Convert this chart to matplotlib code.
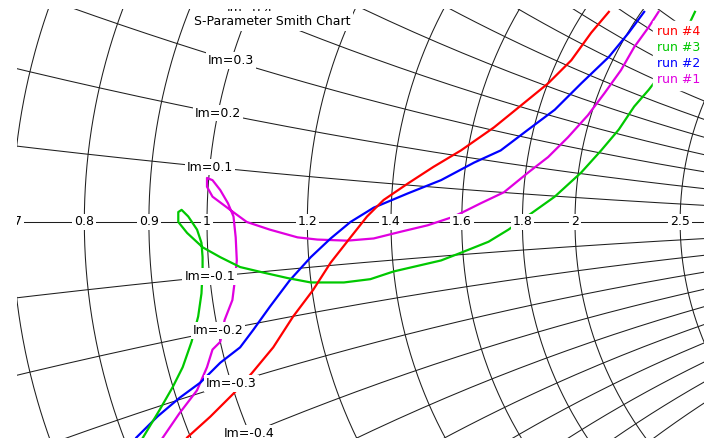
import numpy as np
import matplotlib.pyplot as plt

run1_re = [-0.040, -0.025, -0.009, 0.000, 0.005, 0.012, 0.016, 0.023, 0.025, 0.027,
           0.026, 0.024, 0.019, 0.012, 0.005, 0.000, 0.000, 0.005, 0.021, 0.036,
           0.057, 0.082, 0.100, 0.127, 0.151, 0.175, 0.200, 0.221, 0.230, 0.248,
           0.269, 0.291, 0.309, 0.327, 0.345, 0.360, 0.375, 0.387, 0.400, 0.409]
run1_im = [-0.196, -0.174, -0.153, -0.132, -0.116, -0.109, -0.089, -0.071, -0.055, -0.035,
           -0.014, 0.005, 0.017, 0.029, 0.038, 0.040, 0.032, 0.023, 0.011, 0.000,
           -0.007, -0.014, -0.016, -0.017, -0.015, -0.009, -0.003, 0.004, 0.008, 0.017,
           0.027, 0.045, 0.059, 0.077, 0.097, 0.117, 0.138, 0.159, 0.177, 0.191]

run2_re = [-0.064, -0.045, -0.025, -0.006, 0.003, 0.012, 0.030, 0.042, 0.057, 0.075,
           0.094, 0.112, 0.130, 0.151, 0.182, 0.212, 0.242, 0.266, 0.291, 0.315,
           0.339, 0.364, 0.382, 0.396]
run2_im = [-0.196, -0.177, -0.160, -0.146, -0.137, -0.128, -0.114, -0.098, -0.077, -0.053,
           -0.032, -0.015, 0.000, 0.013, 0.026, 0.038, 0.054, 0.065, 0.084, 0.102,
           0.126, 0.150, 0.172, 0.191]

run3_re = [-0.058, -0.043, -0.031, -0.022, -0.014, -0.008, -0.005, -0.004, -0.004, -0.005,
           -0.009, -0.017, -0.023, -0.026, -0.026, -0.018, -0.004, 0.012, 0.030, 0.051,
           0.073, 0.094, 0.124, 0.148, 0.169, 0.212, 0.230, 0.255, 0.273, 0.294,
           0.315, 0.339, 0.357, 0.373, 0.387, 0.400, 0.407, 0.421, 0.433, 0.442]
run3_im = [-0.196, -0.171, -0.150, -0.132, -0.109, -0.086, -0.065, -0.044, -0.032, -0.019,
           -0.007, 0.005, 0.011, 0.009, 0.000, -0.010, -0.023, -0.032, -0.041, -0.046,
           -0.051, -0.055, -0.055, -0.052, -0.045, -0.035, -0.028, -0.018, -0.007, 0.008,
           0.023, 0.045, 0.065, 0.084, 0.105, 0.120, 0.129, 0.152, 0.172, 0.191]

run4_re = [-0.018, 0.003, 0.025, 0.041, 0.060, 0.078, 0.096, 0.112, 0.130, 0.145,
           0.160, 0.182, 0.205, 0.230, 0.260, 0.287, 0.309, 0.330, 0.348, 0.364]
run4_im = [-0.196, -0.177, -0.155, -0.137, -0.114, -0.086, -0.062, -0.037, -0.014, 0.005,
           0.020, 0.035, 0.050, 0.065, 0.086, 0.108, 0.126, 0.147, 0.172, 0.191]

# grid values of the Smith chart
r_values = [0.1, 0.2, 0.3, 0.4, 0.5, 0.6, 0.7, 0.8, 0.9, 1, 1.2, 1.4, 1.6, 1.8, 2, 2.5, 3, 4, 5, 10]
x_values = [0.1, 0.2, 0.3, 0.4, 0.5, 0.6, 0.7, 0.8, 0.9, 1, 1.2, 1.4, 1.6, 1.8, 2, 3, 4, 5, 10]


def gamma(z):
    return (z - 1) / (z + 1)


fig = plt.figure(figsize=(7.04, 4.38), dpi=100)
ax = fig.add_axes([17 / 704, 0, 687 / 704, 429 / 438])
ax.set_xlim(-0.1721, 0.4502)
ax.set_ylim(-0.1964, 0.1936)
ax.axis('off')

grid_kw = dict(color='#1e1e1e', lw=0.75, zorder=1)
lbl_kw = dict(fontsize=9, ha='center', va='center', zorder=4, clip_on=True,
              bbox=dict(boxstyle='square,pad=0.15', fc='white', ec='none'))

# constant resistance circles
t = np.concatenate([-np.logspace(-3, 3, 500)[::-1], [0], np.logspace(-3, 3, 500)])
for r in r_values:
    g = gamma(r + 1j * t)
    ax.plot(g.real, g.imag, **grid_kw)

# constant reactance arcs
s = np.logspace(-3, 3, 800)
for x in x_values:
    for sgn in (1, -1):
        g = gamma(s + 1j * sgn * x)
        ax.plot(g.real, g.imag, **grid_kw)
ax.plot([-1, 1], [0, 0], **grid_kw)

# labels
for r in r_values:
    ax.text(gamma(r), 0, '%g' % r, **lbl_kw)
for x in x_values:
    for sgn in (1, -1):
        g = gamma(1 + 1j * sgn * x)
        ax.text(g.real, g.imag, 'Im=%g' % (sgn * x), **lbl_kw)

l1, = ax.plot(run1_re, run1_im, color='#e000e0', lw=1.6, zorder=2)
l2, = ax.plot(run2_re, run2_im, color='#0000ff', lw=1.6, zorder=2)
l3, = ax.plot(run3_re, run3_im, color='#00c800', lw=1.6, zorder=2)
l4, = ax.plot(run4_re, run4_im, color='#ff0000', lw=1.6, zorder=2)

ax.text(0.371, 0.972, 'S-Parameter Smith Chart', transform=ax.transAxes, fontsize=9,
        ha='center', va='center', zorder=6,
        bbox=dict(boxstyle='square,pad=0.25', fc='white', ec='none'))

leg = ax.legend([l4, l3, l2, l1], ['run #4', 'run #3', 'run #2', 'run #1'],
                loc='upper right', bbox_to_anchor=(1.0, 0.972), handlelength=0,
                handletextpad=0, labelcolor='linecolor', fontsize=9, frameon=True,
                fancybox=False, edgecolor='white', facecolor='white', framealpha=1,
                borderpad=0.3, labelspacing=0.25, borderaxespad=0)
leg.set_zorder(6)

fig.savefig('out.png', dpi=100)
